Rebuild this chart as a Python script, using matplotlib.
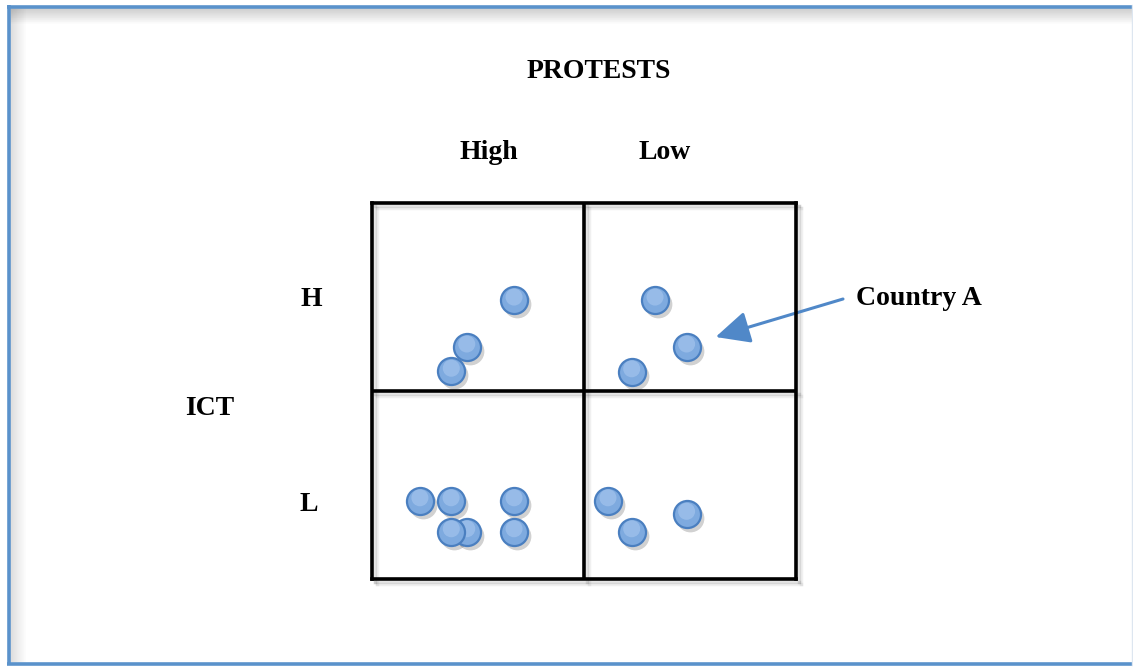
import numpy as np
import matplotlib
matplotlib.use("Agg")
import matplotlib.pyplot as plt

# ── data (grid units: x = protests, y = ICT; each cell is 1 x 1) ─────────────
cell_labels_x = ["High", "Low"]
cell_labels_y = ["H", "L"]

protest_vals = [0.670, 0.447, 0.374,
                1.335, 1.484, 1.225,
                0.226, 0.373, 0.670, 0.447, 0.374, 0.670,
                1.113, 1.225, 1.484]
ict_vals = [1.483, 1.233, 1.104,
            1.483, 1.233, 1.101,
            0.414, 0.414, 0.414, 0.249, 0.249, 0.249,
            0.414, 0.249, 0.342]

country_a = (1.484, 1.233)

# ── style ────────────────────────────────────────────────────────────────────
FONT = ["Liberation Serif", "DejaVu Serif"]
BLUE_FRAME = "#5a92cb"
DOT_FACE = "#7eaadf"
DOT_EDGE = "#4a7fc0"

W, H = 1133, 667
fig = plt.figure(figsize=(W / 100, H / 100), dpi=100)
fig.patch.set_facecolor("white")

# background axes in pixel units (frame + labels)
bg = fig.add_axes([0, 0, 1, 1])
bg.set_xlim(0, W)
bg.set_ylim(H, 0)
bg.axis("off")

# inner shadow of the frame
for i in range(16):
    a = 0.14 * (1 - i / 16)
    bg.plot([10, W], [8 + i, 8 + i], color="black", alpha=a, lw=1, solid_capstyle="butt")
    bg.plot([10 + i, 10 + i], [8, 662], color="black", alpha=a * 0.7, lw=1, solid_capstyle="butt")

# blue frame
bg.plot([8.5, 8.5], [5, 665], color=BLUE_FRAME, lw=2.6, solid_capstyle="butt")
bg.plot([7, W], [6.5, 6.5], color=BLUE_FRAME, lw=2.6, solid_capstyle="butt")
bg.plot([7, W], [663.5, 663.5], color=BLUE_FRAME, lw=2.6, solid_capstyle="butt")
bg.plot([1132, 1132], [5, 665], color="#dde6f0", lw=1.0)

txt = dict(fontfamily=FONT, fontweight="bold", fontsize=20, color="black")
bg.text(599, 78, "PROTESTS", ha="center", va="baseline", **txt)
bg.text(489, 159, cell_labels_x[0], ha="center", va="baseline", **txt)
bg.text(665, 159, cell_labels_x[1], ha="center", va="baseline", **txt)
bg.text(311, 306, cell_labels_y[0], ha="center", va="baseline", **txt)
bg.text(309, 511, cell_labels_y[1], ha="center", va="baseline", **txt)
bg.text(210, 415, "ICT", ha="center", va="baseline", **txt)
bg.text(856, 305, "Country A", ha="left", va="baseline", **txt)

# ── 2x2 grid axes ────────────────────────────────────────────────────────────
gl, gr, gt, gb = 372, 796, 203, 578.5
ax = fig.add_axes([gl / W, 1 - gb / H, (gr - gl) / W, (gb - gt) / H])
ax.set_xlim(0, 2)
ax.set_ylim(0, 2)
ax.set_xticks([])
ax.set_yticks([])
ax.patch.set_alpha(0)
for sp in ax.spines.values():
    sp.set_linewidth(2.6)
    sp.set_color("black")
    sp.set_zorder(5)

px_x = 2 / (gr - gl)
px_y = 2 / (gb - gt)

# soft shadow of the grid lines
for k, a in [(3, 0.10), (5, 0.06)]:
    for v in (0, 1, 2):
        ax.plot([v + k * px_x] * 2, [0 - k * px_y, 2 - k * px_y], color="black",
                alpha=a, lw=2.5, clip_on=False, zorder=1)
        ax.plot([0 + k * px_x, 2 + k * px_x], [v - k * px_y] * 2, color="black",
                alpha=a, lw=2.5, clip_on=False, zorder=1)
ax.axvline(1, color="black", lw=2.6, zorder=5)
ax.axhline(1, color="black", lw=2.6, zorder=5)

# dots: shadow, body, highlight
x = np.asarray(protest_vals)
y = np.asarray(ict_vals)
ax.scatter(x + 3 * px_x, y - 4 * px_y, s=400, color="black", alpha=0.18,
           linewidths=0, zorder=3, clip_on=False)
for xi, yi in zip(x, y):
    ax.scatter([xi], [yi], s=380, facecolor=DOT_FACE, edgecolor=DOT_EDGE,
               linewidths=1.6, zorder=6, clip_on=False)
    ax.scatter([xi], [yi + 3 * px_y], s=150, facecolor="#a9c8ef", edgecolor="none",
               alpha=0.6, zorder=6, clip_on=False)

# arrow to Country A
tip = (country_a[0] + 29 * px_x, country_a[1] + 10 * px_y)
start = ((843 - gl) * px_x, (gb - 299) * px_y)
ax.annotate("", xy=tip, xytext=start, annotation_clip=False,
            arrowprops=dict(arrowstyle="-|>,head_length=0.95,head_width=0.45",
                            mutation_scale=22, color="#5088c8", lw=2.2,
                            shrinkA=0, shrinkB=0))

fig.savefig("out.png", dpi=100)
